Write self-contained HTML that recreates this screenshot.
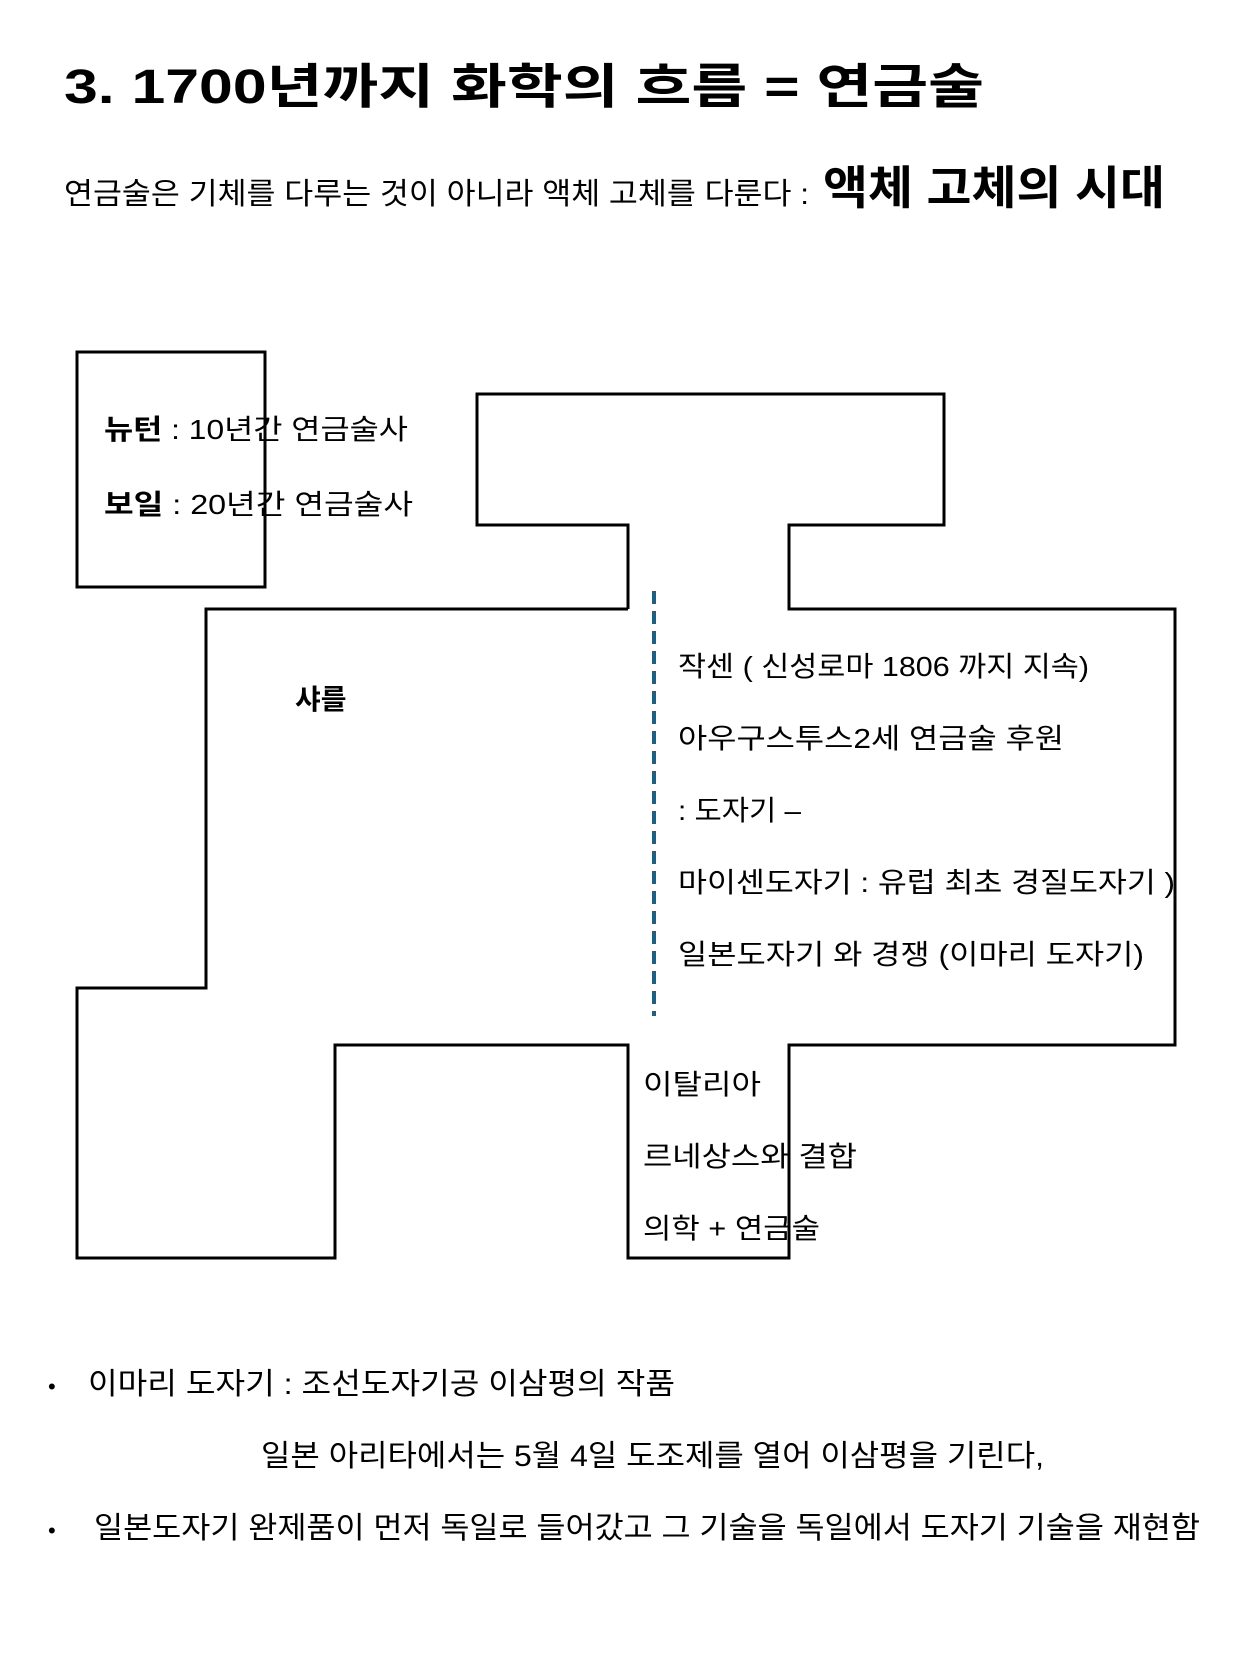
<!DOCTYPE html>
<html><head><meta charset="utf-8"><style>
html,body{margin:0;padding:0;background:#fff;}
svg{display:block;}
text{font-family:"Liberation Sans","Noto Sans CJK KR",sans-serif;fill:#000;}
</style></head><body>
<svg width="1260" height="1680" viewBox="0 0 1260 1680" xmlns="http://www.w3.org/2000/svg">
<text x="64" y="103" font-size="48" font-weight="bold" textLength="920" lengthAdjust="spacingAndGlyphs">3.   1700년까지 화학의 흐름   = 연금술</text>
<text x="64" y="204" font-size="30" textLength="745" lengthAdjust="spacingAndGlyphs">연금술은 기체를 다루는 것이 아니라 액체 고체를 다룬다 :</text>
<text x="823" y="204" font-size="46" font-weight="bold" textLength="342" lengthAdjust="spacingAndGlyphs">액체 고체의 시대</text>

<g fill="none" stroke="#000" stroke-width="3">
<rect x="77" y="352" width="188" height="235"/>
<polyline points="628,609 628,525 477,525 477,394 944,394 944,525 789,525 789,609 1175,609 1175,1045 789,1045 789,1258 628,1258 628,1045 335,1045 335,1258 77,1258 77,988 206,988 206,609 628,609"/>
</g>
<line x1="654" y1="591" x2="654" y2="1016" stroke="#1f5f80" stroke-width="4" stroke-dasharray="13,7"/>

<g font-size="28">
<text x="104" y="439" textLength="304" lengthAdjust="spacingAndGlyphs"><tspan font-weight="bold">뉴턴</tspan> : 10년간 연금술사</text>
<text x="104" y="514" textLength="309" lengthAdjust="spacingAndGlyphs"><tspan font-weight="bold">보일</tspan>  : 20년간 연금술사</text>
<text x="295" y="709" font-weight="bold">샤를</text>
<text x="678" y="676" textLength="411" lengthAdjust="spacingAndGlyphs">작센 ( 신성로마 1806 까지 지속)</text>
<text x="678" y="748" textLength="386" lengthAdjust="spacingAndGlyphs">아우구스투스2세 연금술 후원</text>
<text x="678" y="820" textLength="123" lengthAdjust="spacingAndGlyphs">: 도자기 –</text>
<text x="678" y="892" textLength="497" lengthAdjust="spacingAndGlyphs">마이센도자기 : 유럽 최초 경질도자기 )</text>
<text x="678" y="964" textLength="466" lengthAdjust="spacingAndGlyphs">일본도자기 와 경쟁  (이마리 도자기)</text>
<text x="643" y="1094" textLength="118" lengthAdjust="spacingAndGlyphs">이탈리아</text>
<text x="643" y="1166" textLength="214" lengthAdjust="spacingAndGlyphs">르네상스와 결합</text>
<text x="643" y="1238" textLength="177" lengthAdjust="spacingAndGlyphs">의학 + 연금술</text>
</g>
<g font-size="30">
<text x="48" y="1394" font-size="22">•</text>
<text x="88" y="1394" textLength="587" lengthAdjust="spacingAndGlyphs">이마리 도자기  : 조선도자기공 이삼평의  작품</text>
<text x="261" y="1466" textLength="783" lengthAdjust="spacingAndGlyphs">일본 아리타에서는 5월 4일 도조제를 열어   이삼평을 기린다,</text>
<text x="48" y="1538" font-size="22">•</text>
<text x="94" y="1538" textLength="1106" lengthAdjust="spacingAndGlyphs">일본도자기 완제품이 먼저 독일로 들어갔고 그 기술을 독일에서 도자기 기술을 재현함</text>
</g>
</svg>
</body></html>
